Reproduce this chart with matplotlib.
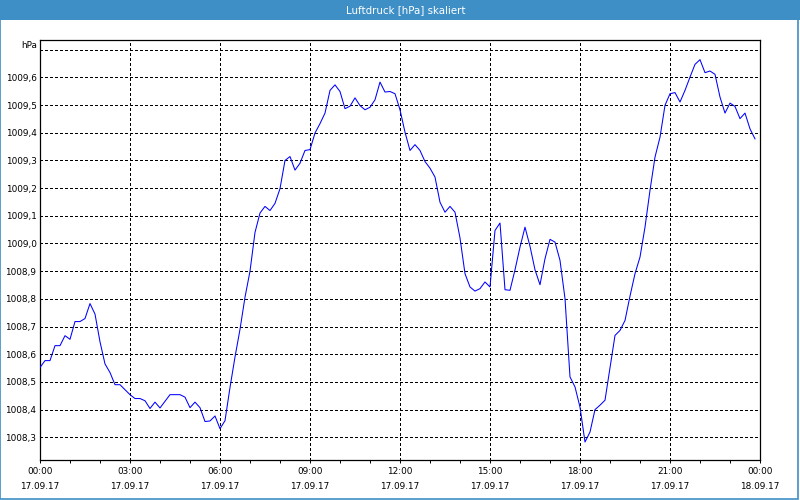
import matplotlib
matplotlib.use("Agg")
import matplotlib.pyplot as plt
from matplotlib.patches import Rectangle

# Luftdruck alle 10 Minuten, 17.09.17 00:00 bis 23:50
pressure = [
    1008.552, 1008.577, 1008.577, 1008.631, 1008.631, 1008.667, 1008.654, 1008.718,
    1008.718, 1008.729, 1008.783, 1008.745, 1008.645, 1008.565, 1008.534, 1008.490,
    1008.490, 1008.472, 1008.454, 1008.440, 1008.440, 1008.432, 1008.404, 1008.427,
    1008.406, 1008.430, 1008.454, 1008.454, 1008.454, 1008.445, 1008.407, 1008.427,
    1008.407, 1008.357, 1008.359, 1008.377, 1008.331, 1008.360, 1008.480, 1008.590,
    1008.690, 1008.806, 1008.900, 1009.040, 1009.110, 1009.134, 1009.119, 1009.145,
    1009.198, 1009.300, 1009.314, 1009.265, 1009.290, 1009.336, 1009.339, 1009.399,
    1009.433, 1009.471, 1009.553, 1009.573, 1009.549, 1009.487, 1009.496, 1009.526,
    1009.498, 1009.483, 1009.492, 1009.519, 1009.583, 1009.547, 1009.549, 1009.541,
    1009.483, 1009.402, 1009.336, 1009.357, 1009.336, 1009.296, 1009.272, 1009.240,
    1009.149, 1009.113, 1009.134, 1009.113, 1009.020, 1008.891, 1008.843, 1008.828,
    1008.837, 1008.861, 1008.843, 1009.047, 1009.074, 1008.833, 1008.831, 1008.905,
    1008.987, 1009.059, 1008.990, 1008.905, 1008.851, 1008.945, 1009.015, 1009.005,
    1008.939, 1008.801, 1008.518, 1008.482, 1008.409, 1008.283, 1008.319, 1008.400,
    1008.416, 1008.434, 1008.550, 1008.668, 1008.686, 1008.722, 1008.810, 1008.891,
    1008.951, 1009.059, 1009.192, 1009.312, 1009.384, 1009.499, 1009.541, 1009.545,
    1009.511, 1009.553, 1009.601, 1009.647, 1009.664, 1009.617, 1009.623, 1009.611,
    1009.529, 1009.471, 1009.507, 1009.495, 1009.451, 1009.471, 1009.414, 1009.378,
]
hours = [i / 6 for i in range(len(pressure))]

x_ticks = [0, 3, 6, 9, 12, 15, 18, 21, 24]
x_labels = ["00:00\n17.09.17", "03:00\n17.09.17", "06:00\n17.09.17",
            "09:00\n17.09.17", "12:00\n17.09.17", "15:00\n17.09.17",
            "18:00\n17.09.17", "21:00\n17.09.17", "00:00\n18.09.17"]
y_ticks = [1008.3, 1008.4, 1008.5, 1008.6, 1008.7, 1008.8, 1008.9,
           1009.0, 1009.1, 1009.2, 1009.3, 1009.4, 1009.5, 1009.6, 1009.7]
y_labels = [f"{v:.1f}".replace(".", ",") for v in y_ticks[:-1]] + [""]

title = "Luftdruck [hPa] skaliert"
unit = "hPa"

BAR = "#3d8fc6"
FS = 6.4

plt.rcParams['font.family'] = ['DejaVu Sans']

fig = plt.figure(figsize=(8, 5), dpi=100)
fig.patch.set_facecolor("white")

# Titelleiste und Rahmen
fig.add_artist(Rectangle((0, 0.96), 1, 0.04, transform=fig.transFigure,
                         facecolor=BAR, edgecolor="none", zorder=0))
fig.add_artist(Rectangle((0.0006, 0.002), 0.997, 0.997, transform=fig.transFigure,
                         facecolor="none", edgecolor=BAR, linewidth=1.2, zorder=0))
fig.text(0.507, 0.979, title, color="white", fontsize=7.4, ha="center", va="center")

ax = fig.add_axes([0.05, 0.08, 0.9, 0.84])
ax.plot(hours, pressure, color="#0000ff", linewidth=0.75, antialiased=True, zorder=3)

ax.set_xlim(0, 24)
ax.set_ylim(1008.218, 1009.735)

ax.set_xticks(x_ticks)
ax.set_xticklabels(x_labels, fontsize=FS, linespacing=1.75)
ax.set_xticks(range(0, 25), minor=True)
ax.tick_params(axis="x", which="both", direction="out", length=2.3, width=0.7,
               pad=3, color="black")

ax.set_yticks(y_ticks)
ax.set_yticklabels(y_labels, fontsize=FS)
ax.tick_params(axis="y", length=0, pad=2.5)

ax.grid(True, which="major", color="black", linestyle=(0, (3, 3)),
        linewidth=0.7, antialiased=False)
ax.set_axisbelow(True)

for s in ax.spines.values():
    s.set_linewidth(0.9)
    s.set_color("black")

fig.text(0.046, 0.91, unit, fontsize=FS, ha="right", va="center")

fig.savefig("out.png", dpi=100)
